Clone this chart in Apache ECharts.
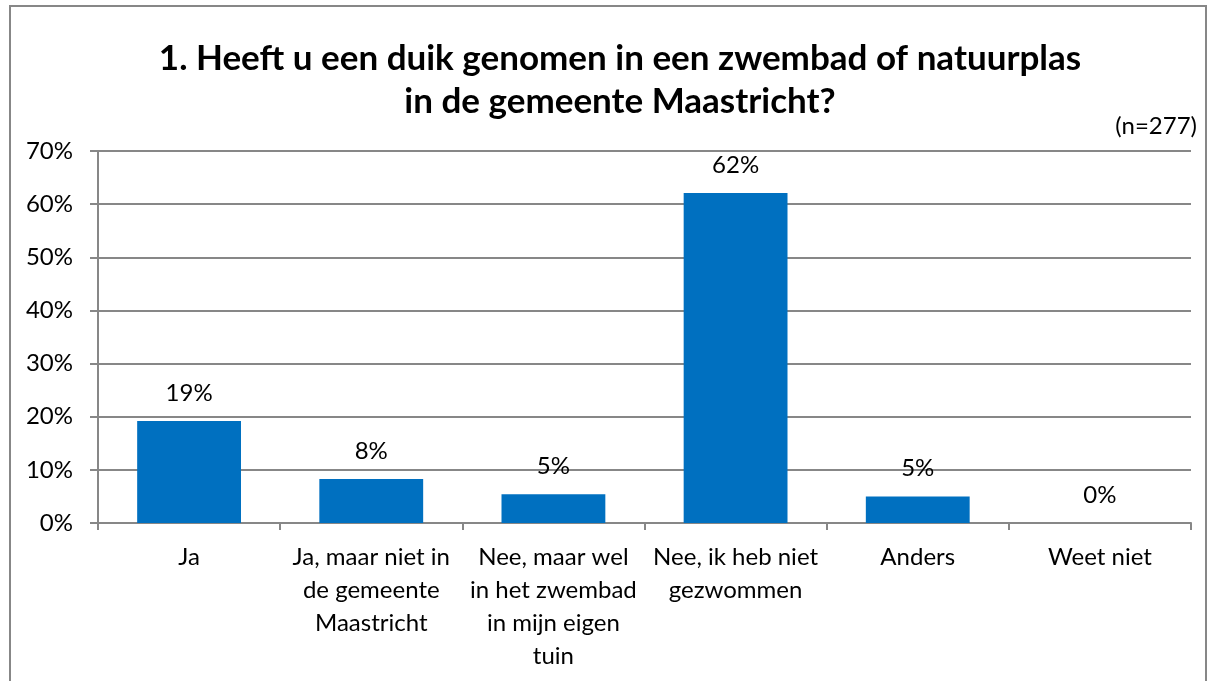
<!DOCTYPE html>
<html lang="nl">
<head>
	<meta charset="UTF-8">
	<title>Duik genomen</title>
	<style>
		html, body { margin: 0; padding: 0; background: #fff; }
	</style>
</head>
<body>
	<div id='main' style="width:1215px;height:681px;"></div>
</body>
<script type="text/javascript" src="https://cdn.jsdelivr.net/npm/echarts@6/dist/echarts.min.js"></script>
<script type="text/javascript">
    // categorieen (met regelafbreking zoals in het origineel)
    var categories = [
        'Ja',
        'Ja, maar niet in\nde gemeente\nMaastricht',
        'Nee, maar wel\nin het zwembad\nin mijn eigen\ntuin',
        'Nee, ik heb niet\ngezwommen',
        'Anders',
        'Weet niet'
    ];
    // percentages
    var values = [19.2, 8.3, 5.4, 62.1, 5.0, 0];
    var yTicks = { min: 0, max: 70, interval: 10 };

    var titleText = '1. Heeft u een duik genomen in een zwembad of natuurplas\nin de gemeente Maastricht?';
    var noteText = '(n=277)';

    var font = 'Lato';
    var gray = '#878787';

var option = {
    animation: false,
    textStyle: { fontFamily: font },
    title: {
        text: titleText,
        left: 615,
        top: 32,
        textAlign: 'center',
        textStyle: {
            fontFamily: font,
            fontSize: 35,
            fontWeight: 'bold',
            color: '#000',
            lineHeight: 43
        }
    },
    graphic: [
        {
            type: 'rect',
            shape: { x: 10, y: 6, width: 1196, height: 690 },
            style: { fill: 'none', stroke: gray, lineWidth: 2 },
            silent: true
        },
        {
            type: 'text',
            right: 18,
            top: 114,
            style: { text: noteText, font: '24px ' + font, fill: '#000' }
        }
    ],
    grid: { left: 98, right: 24, top: 151, bottom: 158 },
    xAxis: {
        type: 'category',
        data: categories,
        axisLine: { lineStyle: { color: gray, width: 2 } },
        axisTick: { show: true, length: 7, lineStyle: { color: gray, width: 2 } },
        axisLabel: {
            interval: 0,
            color: '#000',
            fontSize: 24,
            lineHeight: 33,
            margin: 18
        }
    },
    yAxis: {
        type: 'value',
        min: yTicks.min,
        max: yTicks.max,
        interval: yTicks.interval,
        axisLine: { show: true, lineStyle: { color: gray, width: 2 } },
        axisTick: { show: true, length: 8, lineStyle: { color: gray, width: 2 } },
        axisLabel: {
            formatter: '{value}%',
            color: '#000',
            fontSize: 24,
            margin: 25
        },
        splitLine: { lineStyle: { color: gray, width: 2 } }
    },
    series: [
        {
            type: 'bar',
            data: values,
            barWidth: '57%',
            itemStyle: { color: '#0070C0' },
            label: {
                show: true,
                position: 'top',
                distance: 16,
                color: '#000',
                fontSize: 24,
                formatter: function (p) { return Math.round(p.value) + '%'; }
            }
        }
    ]
};
	myChart = echarts.init(document.getElementById('main'));
	myChart.setOption(option);
</script>
</html>
